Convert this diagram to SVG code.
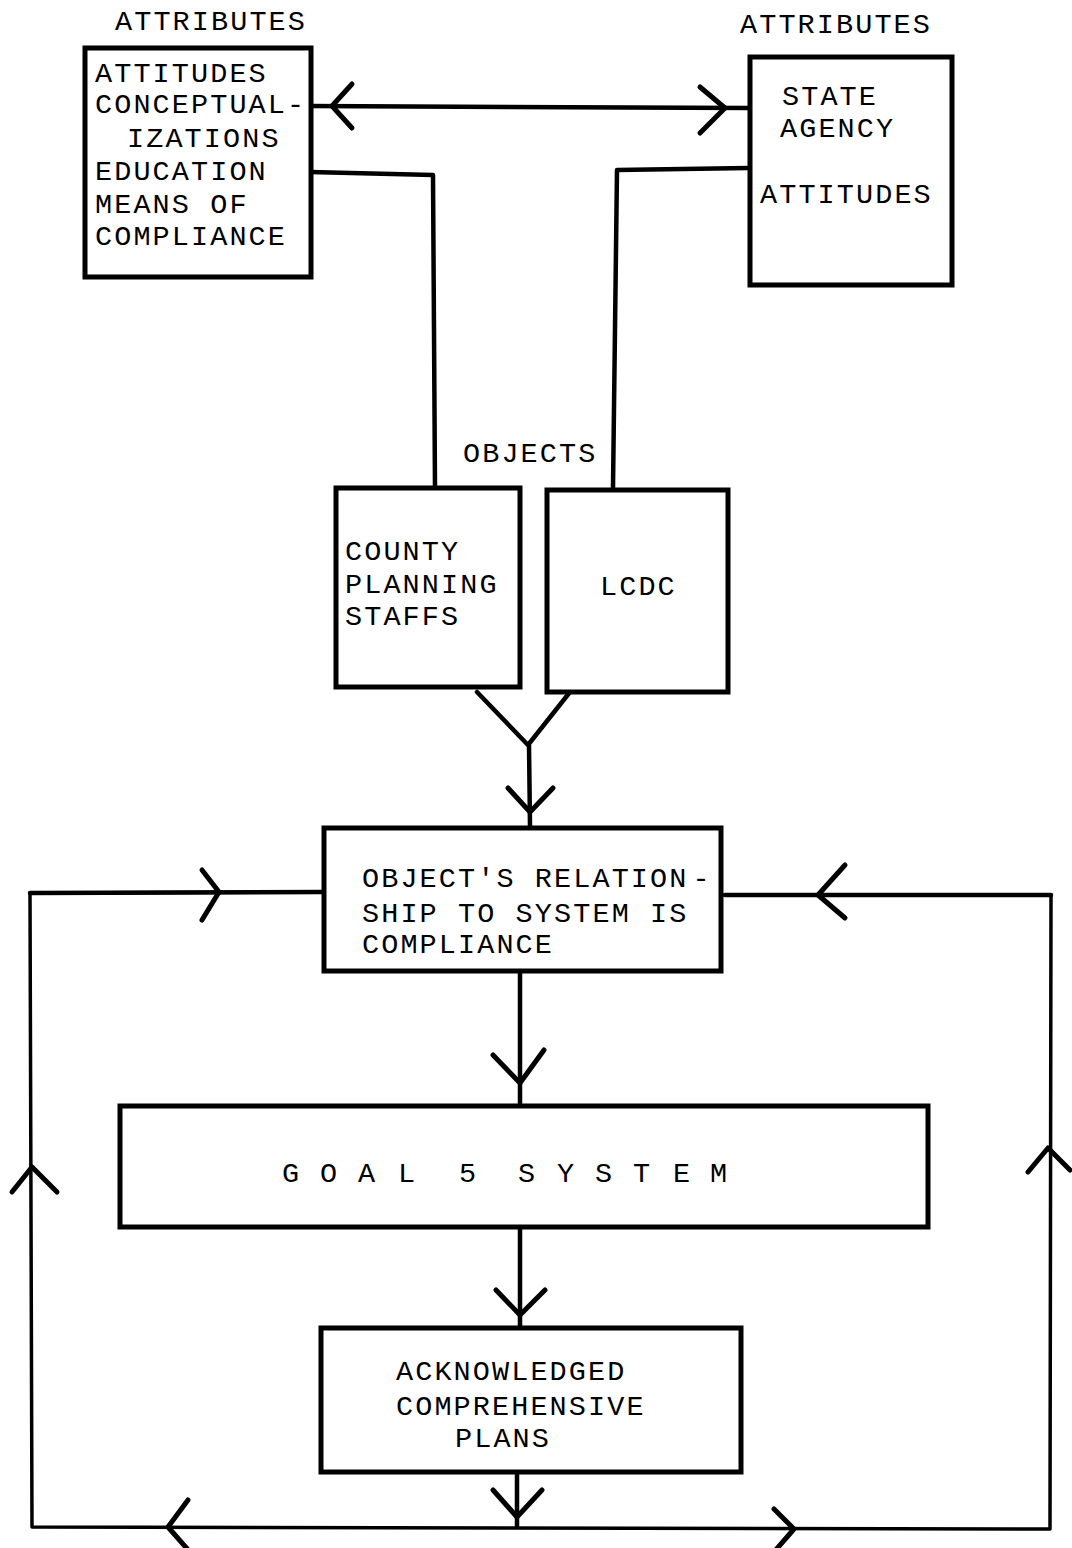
<svg xmlns="http://www.w3.org/2000/svg" width="1072" height="1548" viewBox="0 0 1072 1548">
<style>
.box{fill:#fff;stroke:#000;stroke-width:5}
.t{font-family:"Liberation Mono","Courier New",monospace;font-size:28.5px;letter-spacing:2.1px;fill:#000}
.g{letter-spacing:0}
.ln{fill:none;stroke:#000;stroke-width:4.5;stroke-linecap:round;stroke-linejoin:round}
.lt{fill:none;stroke:#000;stroke-width:3.5;stroke-linecap:round;stroke-linejoin:round}
.ah{fill:none;stroke:#000;stroke-width:5;stroke-linecap:round;stroke-linejoin:round}
</style>
<rect width="1072" height="1548" fill="#fff"/>
<g id="labels">
<text class="t" x="115" y="30">ATTRIBUTES</text>
<text class="t" x="740" y="33">ATTRIBUTES</text>
<text class="t" x="463" y="462">OBJECTS</text>
</g>
<g id="connectors">
<path class="ln" d="M310 106 L748 108"/>
<path class="ah" d="M352 84 L332 106 L352 128"/>
<path class="ah" d="M700 87 L725 108 L700 133"/>
<path class="ln" d="M310 172 L433 175 L435 487"/>
<path class="ln" d="M748 168 L617 170 L613 488"/>
<path class="ln" d="M477 692 L528 745 L570 692"/>
<path class="ln" d="M529 745 L530 826"/>
<path class="ah" d="M508 788 L530 812 L553 788"/>
<path class="ln" d="M520 972 L520 1105"/>
<path class="ah" d="M493 1055 L520 1083 L544 1050"/>
<path class="ln" d="M520 1227 L520 1328"/>
<path class="ah" d="M496 1290 L520 1315 L545 1290"/>
<path class="ln" d="M517 1473 L517 1527"/>
<path class="ah" d="M493 1490 L517 1517 L542 1490"/>
<path class="lt" d="M323 892 L30 893 L32 1527 L1050 1529 L1051 895 L725 895"/>
<path class="ln" d="M30 893 L323 892"/>
<path class="ln" d="M725 895 L1051 895"/>
<path class="ah" d="M202 870 L219 892 L202 920"/>
<path class="ah" d="M845 865 L818 895 L845 918"/>
<path class="ah" d="M12 1192 L32 1167 L57 1192"/>
<path class="ah" d="M1028 1172 L1048 1148 L1070 1170"/>
<path class="ah" d="M188 1500 L168 1527 L190 1552"/>
<path class="ah" d="M774 1509 L794 1529 L774 1552"/>
</g>
<g id="n_attitudes">
<rect class="box" x="85" y="48" width="226" height="229"/>
<text class="t" x="95" y="82">ATTITUDES</text>
<text class="t" x="95" y="113">CONCEPTUAL-</text>
<text class="t" x="127" y="147">IZATIONS</text>
<text class="t" x="95" y="180">EDUCATION</text>
<text class="t" x="95" y="213">MEANS OF</text>
<text class="t" x="95" y="245">COMPLIANCE</text>
</g>
<g id="n_state">
<rect class="box" x="750" y="57" width="202" height="228"/>
<text class="t" x="782" y="105">STATE</text>
<text class="t" x="780" y="137">AGENCY</text>
<text class="t" x="760" y="203">ATTITUDES</text>
</g>
<g id="n_county">
<rect class="box" x="336" y="488" width="184" height="199"/>
<text class="t" x="345" y="560">COUNTY</text>
<text class="t" x="345" y="593">PLANNING</text>
<text class="t" x="345" y="625">STAFFS</text>
</g>
<g id="n_lcdc">
<rect class="box" x="547" y="490" width="181" height="202"/>
<text class="t" x="600" y="595">LCDC</text>
</g>
<g id="n_compliance">
<rect class="box" x="324" y="828" width="397" height="143"/>
<text class="t" x="362" y="887">OBJECT'S RELATION<tspan dx="4">-</tspan></text>
<text class="t" x="362" y="922">SHIP TO SYSTEM IS</text>
<text class="t" x="362" y="953">COMPLIANCE</text>
</g>
<g id="n_goal5">
<rect class="box" x="120" y="1106" width="808" height="121"/>
<text class="t g" x="282 320 358 398 459 518 557 595 633 673 710" y="1182">GOAL5SYSTEM</text>
</g>
<g id="n_plans">
<rect class="box" x="321" y="1328" width="420" height="144"/>
<text class="t" x="396" y="1380">ACKNOWLEDGED</text>
<text class="t" x="396" y="1415">COMPREHENSIVE</text>
<text class="t" x="455" y="1447">PLANS</text>
</g>
</svg>
